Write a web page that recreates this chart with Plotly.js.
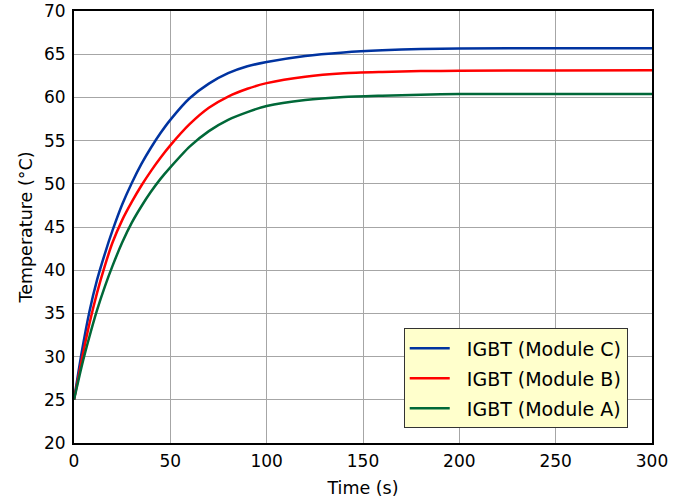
<!DOCTYPE html>
<html>
<head>
<meta charset="utf-8">
<script src="https://cdn.plot.ly/plotly-3.0.1.min.js"></script>
<style>html,body{margin:0;padding:0;background:#fff;}#chart{width:695px;height:499px;}</style>
</head>
<body>
<div id="chart"></div>
<script>
const timeS   = [0, 4, 8, 12, 16, 20, 25, 30, 35, 40, 45, 50, 60, 70, 80, 90, 100, 120, 140, 160, 180, 200, 250, 300];
const moduleC = [25, 30.5, 35.2, 38.9, 41.9, 44.6, 47.6, 50.1, 52.3, 54.2, 55.9, 57.4, 59.9, 61.6, 62.8, 63.6, 64.1, 64.8, 65.2, 65.45, 65.6, 65.65, 65.7, 65.7];
const moduleB = [25, 29.6, 33.8, 37.4, 40.5, 43.2, 45.8, 47.9, 49.8, 51.5, 53.05, 54.45, 56.9, 58.8, 60.1, 61.0, 61.65, 62.4, 62.8, 62.95, 63.05, 63.08, 63.12, 63.15];
const moduleA = [25, 28.9, 32.3, 35.4, 38.1, 40.5, 43.2, 45.5, 47.4, 49.1, 50.6, 51.9, 54.3, 56.1, 57.4, 58.3, 59.0, 59.7, 60.05, 60.2, 60.32, 60.38, 60.4, 60.4];
const seriesNames = ["IGBT (Module C)", "IGBT (Module B)", "IGBT (Module A)"];
const xTicks = [0, 50, 100, 150, 200, 250, 300];
const yTicks = [20, 25, 30, 35, 40, 45, 50, 55, 60, 65, 70];

const colors = ["#0033a0", "#ff0000", "#006838"];
const series = [moduleC, moduleB, moduleA];
const traces = series.map((ys, i) => ({
  x: timeS, y: ys, type: "scatter", mode: "lines",
  name: "\u00a0\u00a0" + seriesNames[i],
  legendgroup: "g" + i,
  line: {color: colors[i], width: 2.5, shape: "spline", smoothing: 0.6},
  hoverinfo: "skip"
}));

const fam = "DejaVu Sans, Arial, sans-serif";
const tickFont = {family: fam, size: 17, color: "#000"};
const titleFont = {family: fam, size: 17.5, color: "#000"};
const legendFont = {family: fam, size: 19, color: "#000"};
const layout = {
  width: 695, height: 499,
  margin: {l: 74, r: 43, t: 11, b: 56},
  paper_bgcolor: "#fff", plot_bgcolor: "#fff",
  font: tickFont,
  showlegend: true,
  legend: {
    x: 0.958, xanchor: "right", y: 0.034, yanchor: "bottom",
    bgcolor: "#ffffcc", bordercolor: "#333", borderwidth: 1,
    traceorder: "grouped", tracegroupgap: 2.3,
    font: legendFont, itemwidth: 40
  },
  xaxis: {
    range: [0, 300], tickvals: xTicks, ticktext: xTicks.map(String),
    showgrid: true, gridcolor: "#a6a6a6", gridwidth: 1,
    showline: true, linecolor: "#000", linewidth: 2, mirror: true,
    ticks: "", zeroline: false, tickfont: tickFont, ticklabelstandoff: 2,
    title: {text: "Time (s)", font: titleFont, standoff: 11}
  },
  yaxis: {
    range: [20, 70], tickvals: yTicks, ticktext: yTicks.map(String),
    showgrid: true, gridcolor: "#a6a6a6", gridwidth: 1,
    showline: true, linecolor: "#000", linewidth: 2, mirror: true,
    ticks: "", zeroline: false, tickfont: tickFont, ticklabelstandoff: 3,
    title: {text: "Temperature (°C)", font: titleFont, standoff: 7}
  }
};
Plotly.newPlot("chart", traces, layout, {displayModeBar: false, staticPlot: true});
</script>
</body>
</html>
